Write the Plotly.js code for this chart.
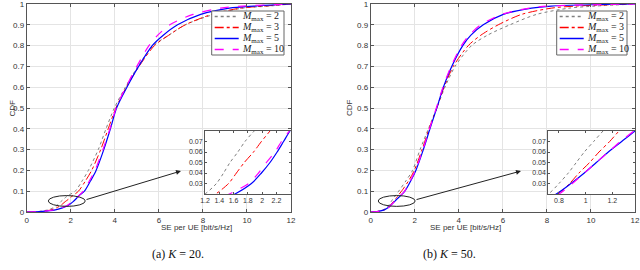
<!DOCTYPE html>
<html>
<head>
<meta charset="utf-8">
<script src="https://cdn.plot.ly/plotly-3.0.1.min.js"></script>
<style>html,body{margin:0;padding:0;background:#fff;}#plot{width:640px;height:270px;}</style>
</head>
<body>
<div id="plot"></div>
<script>
// CDF levels (y values) shared by all curves
const cdfLevels = [0, 0.002, 0.01, 0.02, 0.03, 0.04, 0.05, 0.06, 0.07, 0.08, 0.1, 0.15, 0.2, 0.3, 0.4, 0.5, 0.6, 0.7, 0.8, 0.85, 0.9, 0.95, 0.98, 0.99, 1];
const Mvals = [2, 3, 5, 10];
// K = 20 : SE per UE [bit/s/Hz] at each CDF level
const seK20_M2  = [0, 0.5, 0.95, 1.2, 1.36, 1.46, 1.55, 1.66, 1.76, 1.89, 2.2, 2.52, 2.8, 3.25, 3.6, 3.98, 4.48, 5.05, 5.75, 6.45, 7.2, 8.5, 9.8, 11.0, 12];
const seK20_M3  = [0, 0.55, 1.1, 1.35, 1.53, 1.64, 1.75, 1.88, 1.99, 2.11, 2.35, 2.67, 2.95, 3.36, 3.7, 4.05, 4.52, 5.1, 5.8, 6.45, 7.2, 8.4, 9.7, 10.8, 12];
const seK20_M5  = [0, 0.6, 1.3, 1.62, 1.85, 1.99, 2.11, 2.21, 2.3, 2.39, 2.62, 2.9, 3.15, 3.5, 3.8, 4.08, 4.55, 5.08, 5.7, 6.2, 6.85, 7.9, 9.2, 10.3, 12];
const seK20_M10 = [0, 0.6, 1.25, 1.54, 1.81, 1.95, 2.06, 2.18, 2.27, 2.38, 2.57, 2.85, 3.1, 3.46, 3.78, 4.06, 4.5, 5.0, 5.55, 5.95, 6.5, 7.55, 8.8, 9.8, 12];
// K = 50
const seK50_M2  = [0, 0.25, 0.55, 0.72, 0.8, 0.87, 0.93, 0.99, 1.06, 1.13, 1.27, 1.6, 1.9, 2.24, 2.62, 3.0, 3.37, 3.83, 4.58, 5.3, 6.32, 7.53, 9.0, 10.2, 12];
const seK50_M3  = [0, 0.3, 0.6, 0.79, 0.88, 0.95, 1.03, 1.1, 1.18, 1.25, 1.4, 1.72, 1.98, 2.33, 2.65, 3.0, 3.33, 3.75, 4.43, 5.0, 5.79, 6.85, 8.2, 9.3, 12];
const seK50_M5  = [0, 0.3, 0.62, 0.78, 0.89, 0.99, 1.08, 1.17, 1.27, 1.37, 1.55, 1.82, 2.05, 2.39, 2.69, 3.0, 3.3, 3.68, 4.18, 4.55, 5.11, 6.02, 7.3, 8.2, 12];
const seK50_M10 = [0, 0.3, 0.63, 0.8, 0.9, 0.99, 1.08, 1.17, 1.26, 1.36, 1.54, 1.8, 2.03, 2.37, 2.67, 2.98, 3.28, 3.65, 4.12, 4.47, 5.0, 5.95, 7.2, 8.1, 12];
const xTicks = [0, 2, 4, 6, 8, 10, 12];
const yTicks = [0, 0.1, 0.2, 0.3, 0.4, 0.5, 0.6, 0.7, 0.8, 0.9, 1];
const insetYTicks = [0.03, 0.04, 0.05, 0.06, 0.07];
const insetK20XTicks = [1.2, 1.4, 1.6, 1.8, 2, 2.2];
const insetK50XTicks = [0.8, 1, 1.2];
const captions = ["(a) <i>K</i> = 20.", "(b) <i>K</i> = 50."];

const seriesNames = Mvals.map(m => "<i>M</i><sub>max</sub> = " + m);
const styles = [
  {color: '#7f7f7f', dash: 'dot', width: 1},
  {color: '#ff0000', dash: 'dashdot', width: 1},
  {color: '#0000ff', dash: 'solid', width: 1.2},
  {color: '#ff00ff', dash: 'dash', width: 1.2}
];
const dataK20 = [seK20_M2, seK20_M3, seK20_M5, seK20_M10];
const dataK50 = [seK50_M2, seK50_M3, seK50_M5, seK50_M10];

const traces = [];
function addSet(arrs, xa, ya) {
  arrs.forEach((xs, i) => {
    traces.push({x: xs, y: cdfLevels, type: 'scatter', mode: 'lines', xaxis: xa, yaxis: ya,
      line: {color: styles[i].color, dash: styles[i].dash, width: styles[i].width, shape: 'spline', smoothing: 0.8},
      name: seriesNames[i], showlegend: false, hoverinfo: 'skip'});
  });
}
addSet(dataK20, 'x', 'y');
addSet(dataK50, 'x2', 'y2');
addSet(dataK20, 'x3', 'y3');
addSet(dataK50, 'x4', 'y4');

const W = 640, H = 270;
const px = v => v / W;
const py = v => 1 - v / H;
const tickFont = {family: 'Liberation Sans, Arial, sans-serif', size: 8, color: '#333'};
const insetFont = {family: 'Liberation Sans, Arial, sans-serif', size: 7, color: '#333'};
const lineCol = '#555';

function baseAxis(domain, anchor, range, ticks, font, grid, tlen) {
  return {domain: domain, anchor: anchor, range: range, tickvals: ticks, ticks: 'inside', ticklen: tlen,
    tickcolor: lineCol, showline: true, linecolor: lineCol, linewidth: 1, mirror: 'ticks', showgrid: grid,
    gridcolor: '#e4e4e4', zeroline: false, tickfont: font, automargin: false, ticklabeloverflow: 'allow'};
}

const mainYDom = [py(212), py(4)];
const insetYDom = [py(194), py(131)];

const shapes = [];
const annotations = [];

// legends (compact, MATLAB style)
function addLegend(x0, x1) {
  const y0 = 11, y1 = 55;
  shapes.push({type: 'rect', xref: 'paper', yref: 'paper', x0: px(x0), x1: px(x1), y0: py(y1), y1: py(y0),
    fillcolor: '#fff', line: {color: '#666', width: 1}, layer: 'above'});
  styles.forEach((s, i) => {
    const yc = y0 + 5.5 + i * 11;
    shapes.push({type: 'line', xref: 'paper', yref: 'paper', x0: px(x0 + 3), x1: px(x0 + 27), y0: py(yc), y1: py(yc),
      line: {color: s.color, dash: s.dash, width: s.width + 0.3}, layer: 'above'});
    annotations.push({xref: 'paper', yref: 'paper', x: px(x0 + 28), y: py(yc), xanchor: 'left', yanchor: 'middle',
      text: seriesNames[i], showarrow: false, font: {family: 'Liberation Serif, DejaVu Serif, serif', size: 10, color: '#222'}});
  });
}
addLegend(211.7, 284);
addLegend(556.7, 627);

// ellipses
shapes.push({type: 'circle', xref: 'x', yref: 'y', x0: 0.98, x1: 2.66, y0: 0.027, y1: 0.079, line: {color: '#222', width: 1}});
shapes.push({type: 'circle', xref: 'x2', yref: 'y2', x0: 0.34, x1: 2.02, y0: 0.027, y1: 0.079, line: {color: '#222', width: 1}});

// arrows
annotations.push({xref: 'paper', yref: 'paper', x: px(181), y: py(171), ax: -96, ay: 29, text: '', showarrow: true,
  arrowhead: 2, arrowsize: 1, arrowwidth: 1, arrowcolor: '#222'});
annotations.push({xref: 'paper', yref: 'paper', x: px(521), y: py(171), ax: -106, ay: 29, text: '', showarrow: true,
  arrowhead: 2, arrowsize: 1, arrowwidth: 1, arrowcolor: '#222'});

// axis titles
const titleFont = {family: 'Liberation Sans, Arial, sans-serif', size: 8, color: '#333'};
annotations.push({xref: 'paper', yref: 'paper', x: px(159), y: py(234), text: 'SE per UE [bit/s/Hz]', showarrow: false, font: titleFont});
annotations.push({xref: 'paper', yref: 'paper', x: px(503), y: py(234), text: 'SE per UE [bit/s/Hz]', showarrow: false, font: titleFont});
annotations.push({xref: 'paper', yref: 'paper', x: px(5), y: py(108), text: 'CDF', textangle: -90, showarrow: false, font: titleFont});
annotations.push({xref: 'paper', yref: 'paper', x: px(349), y: py(108), text: 'CDF', textangle: -90, showarrow: false, font: titleFont});

// captions
const capFont = {family: 'Liberation Serif, DejaVu Serif, serif', size: 12, color: '#111'};
annotations.push({xref: 'paper', yref: 'paper', x: px(150), y: py(263), text: captions[0], showarrow: false, font: capFont});
annotations.push({xref: 'paper', yref: 'paper', x: px(478), y: py(263), text: captions[1], showarrow: false, font: capFont});

const layout = {
  width: W, height: H,
  margin: {l: 0, r: 0, t: 0, b: 0, pad: 0},
  paper_bgcolor: '#fff', plot_bgcolor: '#fff',
  showlegend: false,
  xaxis: baseAxis([px(26.7), px(291)], 'y', [0, 12], xTicks, tickFont, true, 3),
  yaxis: baseAxis(mainYDom, 'x', [0, 1], yTicks, tickFont, true, 3),
  xaxis2: baseAxis([px(370.7), px(635)], 'y2', [0, 12], xTicks, tickFont, true, 3),
  yaxis2: baseAxis(mainYDom, 'x2', [0, 1], yTicks, tickFont, true, 3),
  xaxis3: baseAxis([px(205), px(290.7)], 'y3', [1.2, 2.4], insetK20XTicks, insetFont, false, 2),
  yaxis3: baseAxis(insetYDom, 'x3', [0.02, 0.08], insetYTicks, insetFont, false, 2),
  xaxis4: baseAxis([px(548.3), px(635)], 'y4', [0.72, 1.37], insetK50XTicks, insetFont, false, 2),
  yaxis4: baseAxis(insetYDom, 'x4', [0.02, 0.08], insetYTicks, insetFont, false, 2),
  shapes: shapes,
  annotations: annotations
};

Plotly.newPlot('plot', traces, layout, {staticPlot: true, displayModeBar: false});
</script>
</body>
</html>
